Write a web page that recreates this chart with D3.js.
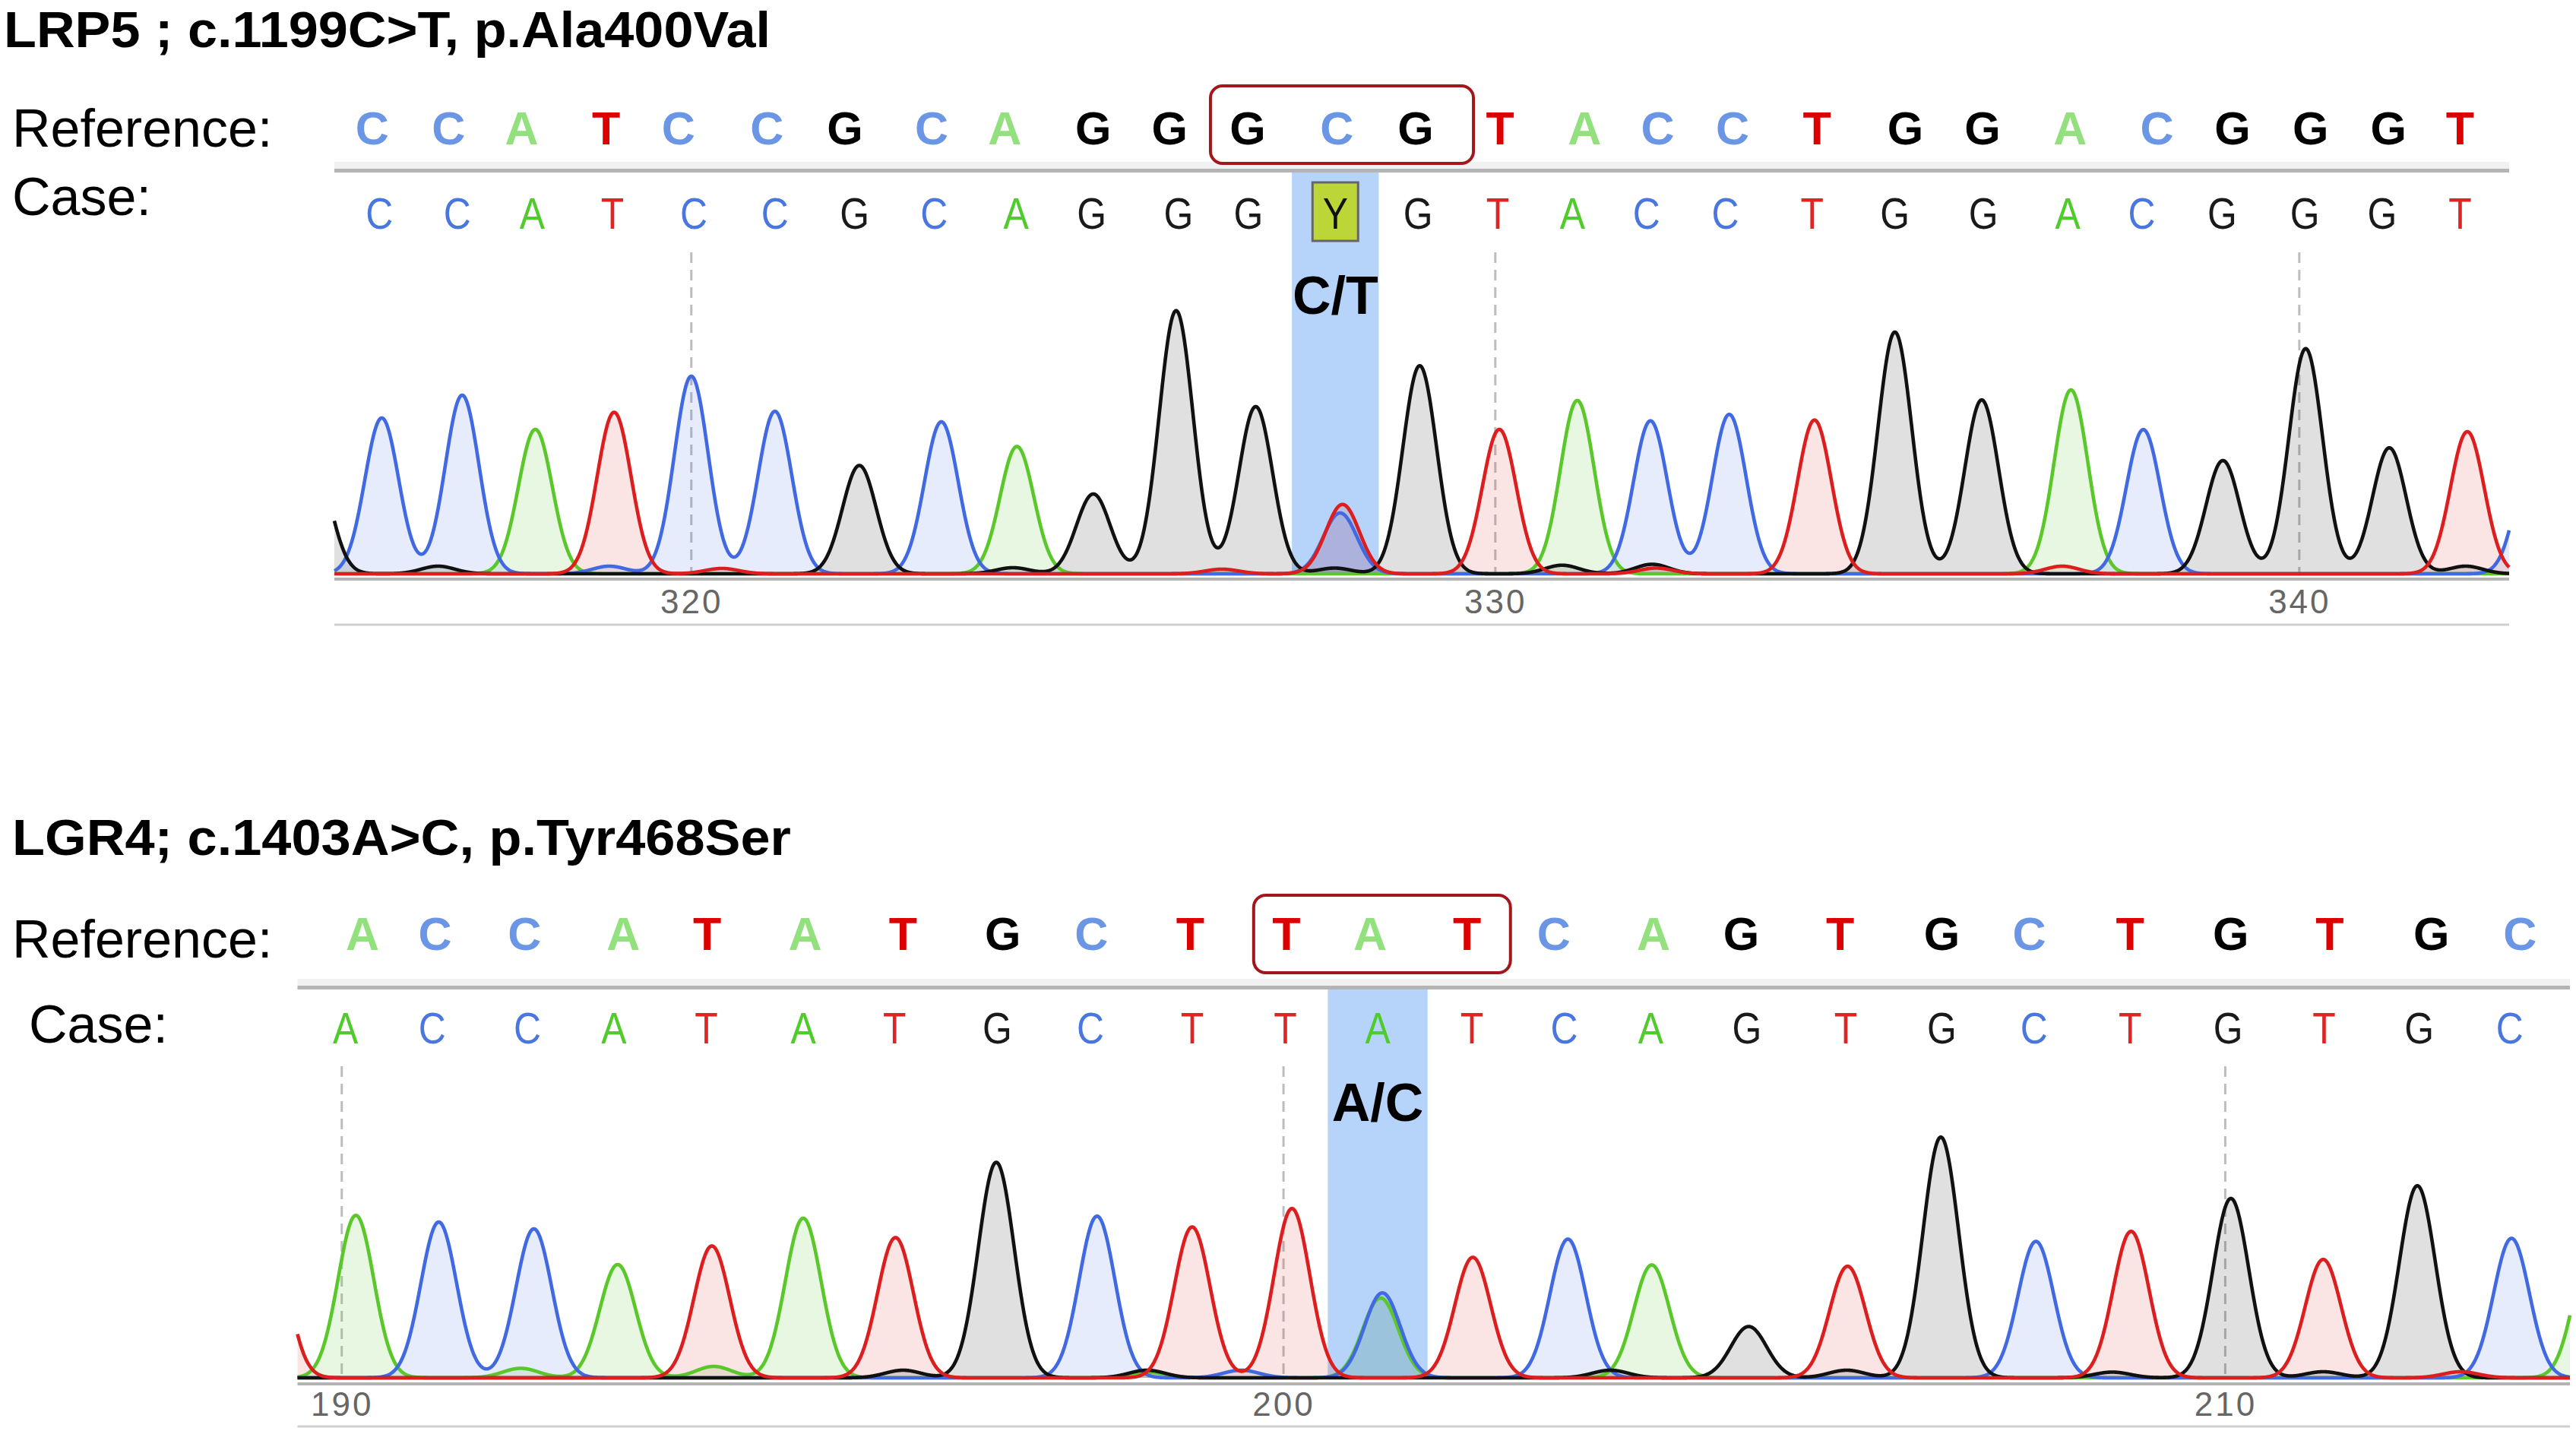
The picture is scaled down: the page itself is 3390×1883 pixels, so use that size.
<!DOCTYPE html>
<html><head><meta charset="utf-8">
<script src="https://cdn.jsdelivr.net/npm/d3@7"></script>
<style>html,body{margin:0;padding:0;background:#fff}svg{display:block}</style>
</head><body>
<svg id="chart" width="3390" height="1883"></svg>
<script>
// ---------------- DATA ----------------
// Panel 1: LRP5
const lrp5Title = "LRP5 ; c.1199C>T, p.Ala400Val";
const lrp5Reference = ["C","C","A","T","C","C","G","C","A","G","G","G","C","G","T","A","C","C","T","G","G","A","C","G","G","G","T"];
const lrp5ReferencePos = [316.03,316.98,317.89,318.94,319.84,320.94,321.91,322.99,323.90,325.00,325.95,326.92,328.03,329.01,330.06,331.11,332.02,332.95,334.00,335.10,336.06,337.15,338.23,339.17,340.14,341.11,342.00];
const lrp5Case = ["C","C","A","T","C","C","G","C","A","G","G","G","Y","G","T","A","C","C","T","G","G","A","C","G","G","G","T"];
const lrp5CasePos = [316.12,317.09,318.02,319.02,320.03,321.04,322.03,323.02,324.04,324.98,326.06,326.93,328.01,329.04,330.03,330.96,331.88,332.86,333.94,334.97,336.07,337.12,338.04,339.04,340.07,341.03,342.00];
const lrp5PeakBase = ["G","C","G","C","A","C","T","C","T","C","G","C","G","A","G","G","T","G","T","C","G","G","T","G","A","C","G","T","C","T","G","G","T","A","C","G","G","G","T","G","C"];
const lrp5PeakPos  = [315.30,316.15,316.85,317.15,318.06,318.98,319.04,320.00,320.38,321.04,322.09,323.11,324.00,324.05,325.00,326.03,326.60,327.02,328.10,328.07,328.00,329.06,330.05,330.83,331.02,331.93,331.95,332.00,332.91,333.97,334.97,336.05,337.05,337.16,338.06,339.05,340.08,341.12,342.09,342.07,342.92];
const lrp5PeakHeight=[600,820,40,940,760,40,850,1040,28,855,570,800,32,670,420,1385,24,880,365,320,30,1095,760,45,912,805,50,30,839,809,1272,915,40,968,759,596,1185,663,748,40,680];
const lrp5Ticks = [320, 330, 340];
const lrp5Boxed = [11, 13];      // reference codon boxed (indices)
const lrp5Variant = 12;          // index of the variant call
const lrp5VariantLabel = "C/T";

// Panel 2: LGR4
const lgr4Title = "LGR4; c.1403A>C, p.Tyr468Ser";
const lgr4Reference = ["A","C","C","A","T","A","T","G","C","T","T","A","T","C","A","G","T","G","C","T","G","T","G","C"];
const lgr4ReferencePos = [190.22,190.99,191.94,192.99,193.88,194.92,195.96,197.02,197.96,199.01,200.03,200.92,201.95,202.87,203.93,204.86,205.91,206.99,207.92,208.99,210.06,211.11,212.19,213.13];
const lgr4Case = ["A","C","C","A","T","A","T","G","C","T","T","A","T","C","A","G","T","G","C","T","G","T","G","C"];
const lgr4CasePos = [190.04,190.96,191.97,192.89,193.87,194.90,195.87,196.96,197.95,199.03,200.02,201.00,202.00,202.98,203.90,204.92,205.97,206.99,207.97,208.99,210.03,211.05,212.06,213.02];
const lgr4PeakBase = ["T","A","C","A","C","A","T","A","A","G","T","G","C","G","A","T","C","T","A","C","T","C","G","A","G","T","G","G","C","G","T","G","T","G","G","T","C","A"];
const lgr4PeakPos  = [189.23,190.15,191.03,191.90,192.04,192.93,193.93,193.95,194.90,195.96,195.88,196.95,198.02,198.55,198.55,199.03,199.55,200.09,201.03,201.05,202.01,203.02,203.47,203.91,204.94,205.99,205.98,206.98,207.99,208.80,209.00,210.06,211.04,211.04,212.04,212.50,213.04,213.90];
const lgr4PeakHeight=[800,855,820,50,784,596,694,60,840,40,738,1134,851,40,30,794,40,891,420,447,634,730,40,594,270,587,40,1267,718,30,771,944,623,32,1011,32,734,730];
const lgr4Ticks = [190, 200, 210];
const lgr4Boxed = [10, 12];
const lgr4Variant = 11;
const lgr4VariantLabel = "A/C";

// ---------------- STYLE / LAYOUT ----------------
const FONT = "'Liberation Sans', Arial, Helvetica, sans-serif";
const traceColor = {A:"#5ac82a", C:"#4169e1", G:"#111111", T:"#dc1e1e"};
const fillColor  = {A:"#5ac82a", C:"#4169e1", G:"#000000", T:"#dc1e1e"};
const fillOpacity= {A:0.14, C:0.13, G:0.12, T:0.12};
const refColor   = {A:"#93e07e", C:"#6b96e6", G:"#000000", T:"#dd0000"};
const caseColor  = {A:"#4fcb2b", C:"#4a76e0", G:"#1a1a1a", T:"#dc2626", Y:"#111111"};
const drawOrder  = ["A","C","G","T"];

const panels = [
  { title:lrp5Title, ref:lrp5Reference, refPos:lrp5ReferencePos, cas:lrp5Case, casePos:lrp5CasePos,
    pBase:lrp5PeakBase, pPos:lrp5PeakPos, pH:lrp5PeakHeight, ticks:lrp5Ticks, boxed:lrp5Boxed,
    variant:lrp5Variant, varLabel:lrp5VariantLabel, iupacBox:true,
    domain:[315.56, 342.61], L:{x0:440, x1:3302, titleX:5, titleY:62, titleW:1009, refLabX:16, refLabY:193,
    caseLabX:16, caseLabY:283, refY:190, caseY:301, sepY:222, baseY:755, axisY:762, tickY:807,
    botLineY:822, dashTop:332, boxTop:113, boxBot:215, boxPadL:49, boxPadR:76, varY:413, sigma:0.21, half:0.54}},
  { title:lgr4Title, ref:lgr4Reference, refPos:lgr4ReferencePos, cas:lgr4Case, casePos:lgr4CasePos,
    pBase:lgr4PeakBase, pPos:lgr4PeakPos, pH:lgr4PeakHeight, ticks:lgr4Ticks, boxed:lgr4Boxed,
    variant:lgr4Variant, varLabel:lgr4VariantLabel, iupacBox:false,
    domain:[189.53, 213.66], L:{x0:391.5, x1:3382, titleX:16, titleY:1125, titleW:1025, refLabX:16, refLabY:1260,
    caseLabX:38, caseLabY:1372, refY:1250, caseY:1373, sepY:1297, baseY:1813, axisY:1821, tickY:1863,
    botLineY:1877, dashTop:1403, boxTop:1178, boxBot:1280, boxPadL:43, boxPadR:57, varY:1475, sigma:0.19, half:0.53}}
];

const svg = d3.select("#chart");
svg.append("rect").attr("width",3390).attr("height",1883).attr("fill","#fff");

panels.forEach(p => {
  const L = p.L;
  const g = svg.append("g");
  const x = d3.scaleLinear().domain(p.domain).range([L.x0, L.x1]);
  const y = d3.scaleLinear().domain([0, 1600]).range([L.baseY, L.baseY - 400]);

  // variant highlight column
  const vPos = p.casePos[p.variant];
  g.append("rect")
    .attr("x", x(vPos - L.half)).attr("width", x(vPos + L.half) - x(vPos - L.half))
    .attr("y", L.sepY + 5).attr("height", L.baseY - (L.sepY + 5))
    .attr("fill", "#b6d4fa");

  // separator between reference and case rows
  g.append("rect").attr("x", L.x0).attr("width", L.x1 - L.x0)
    .attr("y", L.sepY - 9).attr("height", 9).attr("fill", "#f1f1f1");
  g.append("rect").attr("x", L.x0).attr("width", L.x1 - L.x0)
    .attr("y", L.sepY).attr("height", 5).attr("fill", "#b4b4b4");

  // dashed tick guide lines
  g.selectAll(".dash").data(p.ticks).enter().append("line")
    .attr("x1", d => x(d)).attr("x2", d => x(d))
    .attr("y1", L.dashTop).attr("y2", L.baseY)
    .attr("stroke", "#bdbdbd").attr("stroke-width", 3).attr("stroke-dasharray", "14,9");

  // traces: sum of peak profiles per channel
  const samples = d3.range(p.domain[0], p.domain[1], 0.005).concat([p.domain[1]]);
  const peaks = p.pBase.map((b, i) => ({b, pos:p.pPos[i], h:p.pH[i]}));
  const channels = drawOrder.map(b => {
    const pk = peaks.filter(d => d.b === b);
    return {b, pts: samples.map(s => [s, d3.sum(pk, d => d.h * Math.exp(-0.5 * Math.pow((s - d.pos) / L.sigma, 2)))])};
  });
  const area = d3.area().x(d => x(d[0])).y0(y(0)).y1(d => y(d[1]));
  const line = d3.line().x(d => x(d[0])).y(d => y(d[1]));
  g.selectAll(".fill").data(channels).enter().append("path")
    .attr("d", d => area(d.pts)).attr("fill", d => fillColor[d.b]).attr("fill-opacity", d => fillOpacity[d.b]);
  g.selectAll(".trace").data(channels).enter().append("path")
    .attr("d", d => line(d.pts)).attr("fill", "none").attr("stroke", d => traceColor[d.b])
    .attr("stroke-width", 4.6).attr("stroke-linejoin", "round");

  // axis
  g.append("line").attr("x1", L.x0).attr("x2", L.x1).attr("y1", L.axisY).attr("y2", L.axisY)
    .attr("stroke", "#b3b3b3").attr("stroke-width", 4);
  g.append("line").attr("x1", L.x0).attr("x2", L.x1).attr("y1", L.botLineY).attr("y2", L.botLineY)
    .attr("stroke", "#cfcfcf").attr("stroke-width", 3);
  const axis = d3.axisBottom(x).tickValues(p.ticks).tickSize(0).tickFormat(d3.format("d"));
  const ax = g.append("g").attr("transform", `translate(0,${L.tickY - 31})`).call(axis);
  ax.select(".domain").remove();
  ax.selectAll("text").attr("font-family", FONT).attr("font-size", 44).attr("fill", "#666")
    .attr("letter-spacing", 3).attr("dy", 0).attr("y", 31);

  // texts
  g.append("text").attr("x", L.titleX).attr("y", L.titleY).text(p.title)
    .attr("font-family", FONT).attr("font-weight", "bold").attr("font-size", 67).attr("fill", "#000")
    .attr("textLength", L.titleW).attr("lengthAdjust", "spacingAndGlyphs");
  g.append("text").attr("x", L.refLabX).attr("y", L.refLabY).text("Reference:")
    .attr("font-family", FONT).attr("font-size", 70).attr("fill", "#000");
  g.append("text").attr("x", L.caseLabX).attr("y", L.caseLabY).text("Case:")
    .attr("font-family", FONT).attr("font-size", 70).attr("fill", "#000");

  // reference box
  const bx0 = x(p.refPos[p.boxed[0]]) - L.boxPadL, bx1 = x(p.refPos[p.boxed[1]]) + L.boxPadR;
  g.append("rect").attr("x", bx0).attr("y", L.boxTop).attr("width", bx1 - bx0).attr("height", L.boxBot - L.boxTop)
    .attr("rx", 16).attr("fill", "none").attr("stroke", "#a3161b").attr("stroke-width", 4);

  // reference letters
  g.selectAll(".ref").data(p.ref).enter().append("text")
    .attr("x", (d, i) => x(p.refPos[i])).attr("y", L.refY).text(d => d)
    .attr("text-anchor", "middle").attr("font-family", FONT).attr("font-weight", "bold")
    .attr("font-size", 61).attr("fill", d => refColor[d]);

  // IUPAC box
  if (p.iupacBox) {
    g.append("rect").attr("x", x(vPos) - 30).attr("y", L.caseY - 61).attr("width", 60).attr("height", 77)
      .attr("fill", "#bcd637").attr("stroke", "#666").attr("stroke-width", 3);
  }
  // case letters (slightly condensed)
  g.selectAll(".case").data(p.cas).enter().append("text")
    .attr("transform", (d, i) => `translate(${x(p.casePos[i])},${L.caseY}) scale(0.86,1)`)
    .text(d => d).attr("text-anchor", "middle").attr("font-family", FONT)
    .attr("font-size", 58).attr("fill", d => caseColor[d]);

  // variant label
  g.append("text").attr("x", x(vPos)).attr("y", L.varY).text(p.varLabel)
    .attr("text-anchor", "middle").attr("font-family", FONT).attr("font-weight", "bold")
    .attr("font-size", 70).attr("fill", "#000");
});
</script>
</body></html>
